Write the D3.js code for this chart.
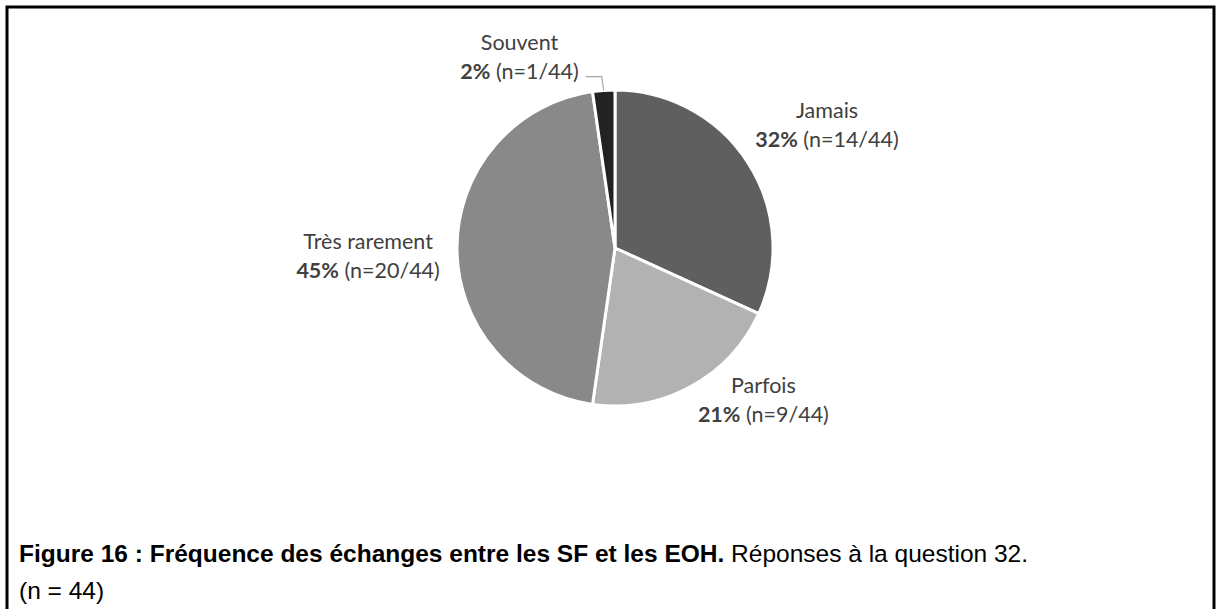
<!DOCTYPE html>
<html>
<head>
<meta charset="utf-8">
<script src="https://cdn.jsdelivr.net/npm/d3@7"></script>
<style>
body { margin: 0; background: #fff; }
svg { display: block; }
.lbl { font-family: Lato, 'Open Sans', sans-serif; font-size: 21.5px; fill: #404040; }
.caption { font-family: 'Liberation Sans', Arial, sans-serif; font-size: 24.5px; fill: #000; }
</style>
</head>
<body>
<script>
var categories = ['Jamais', 'Parfois', 'Très rarement', 'Souvent']
var counts = [14, 9, 20, 1]
var total = 44
var pctLabels = ['32%', '21%', '45%', '2%']
var sliceColors = ['#5f5f5f', '#b2b2b2', '#898989', '#222222']

var width = 1217
var height = 609
var cx = 615
var cy = 248
var radius = 158

// excel moved some labels around, so nudge them off the label arc
var labelNudge = [[6, 9], [31, -63], [-2, 8], [-78, 53]]

var data = categories.map(function(c, i) {
    return { name: c, n: counts[i], pct: pctLabels[i], color: sliceColors[i], i: i }
})

var svg = d3.select('body').append('svg')
    .attr('width', width)
    .attr('height', height)

svg.append('rect')
    .attr('width', width)
    .attr('height', height)
    .attr('fill', '#fff')

// frame (no bottom edge visible)
svg.append('path')
    .attr('d', 'M7,' + height + 'V7H1214V' + height)
    .attr('fill', 'none')
    .attr('stroke', '#000')
    .attr('stroke-width', 3)

var pie = d3.pie()
    .sort(null)
    .value(function(d) { return d.n })

var arc = d3.arc()
    .innerRadius(0)
    .outerRadius(radius)

var labelArc = d3.arc()
    .innerRadius(radius * 1.55)
    .outerRadius(radius * 1.55)

var edgeArc = d3.arc()
    .innerRadius(radius)
    .outerRadius(radius)

var g = svg.append('g')
    .attr('transform', 'translate(' + cx + ',' + cy + ')')

var arcs = pie(data)

g.selectAll('path.slice')
    .data(arcs)
    .enter().append('path')
    .attr('class', 'slice')
    .attr('d', arc)
    .style('fill', function(d) { return d.data.color })
    .style('stroke', '#fff')
    .style('stroke-width', 3)
    .style('stroke-linejoin', 'round')

var labels = g.selectAll('text.lbl')
    .data(arcs)
    .enter().append('text')
    .attr('class', 'lbl')
    .attr('text-anchor', 'middle')
    .attr('transform', function(d) {
        var p = labelArc.centroid(d)
        var nd = labelNudge[d.data.i]
        return 'translate(' + (p[0] + nd[0]) + ',' + (p[1] + nd[1]) + ')'
    })

labels.append('tspan')
    .attr('x', 0)
    .attr('y', -7)
    .text(function(d) { return d.data.name })

var line2 = labels.append('tspan')
    .attr('class', 'l2')
    .attr('x', 0)
    .attr('y', 22)

line2.append('tspan')
    .style('font-weight', 'bold')
    .text(function(d) { return d.data.pct })

line2.append('tspan')
    .text(function(d) { return ' (n=' + d.data.n + '/' + total + ')' })

// leader line for the small slice
labels.filter(function(d) { return d.data.name === 'Souvent' })
    .each(function(d) {
        var bb = this.getBBox()
        var t = d3.select(this).attr('transform')
        var m = /translate\(([-\d.]+),([-\d.]+)\)/.exec(t)
        var lx = +m[1], ly = +m[2]
        var end = edgeArc.centroid(d)
        var x0 = lx + bb.x + bb.width + 7
        var yl = ly + 20
        g.append('path')
            .attr('d', 'M' + x0 + ',' + yl + 'H' + (end[0] - 2) + 'L' + end[0] + ',' + end[1])
            .attr('fill', 'none')
            .attr('stroke', '#a6a6a6')
            .attr('stroke-width', 1.2)
    })

var cap = svg.append('text')
    .attr('class', 'caption')
    .attr('x', 19)
    .attr('y', 562)

cap.append('tspan')
    .style('font-weight', 'bold')
    .text('Figure 16 : Fréquence des échanges entre les SF et les EOH.')

cap.append('tspan')
    .text(' Réponses à la question 32.')

svg.append('text')
    .attr('class', 'caption')
    .attr('x', 19)
    .attr('y', 599)
    .text('(n = 44)')
</script>
</body>
</html>
